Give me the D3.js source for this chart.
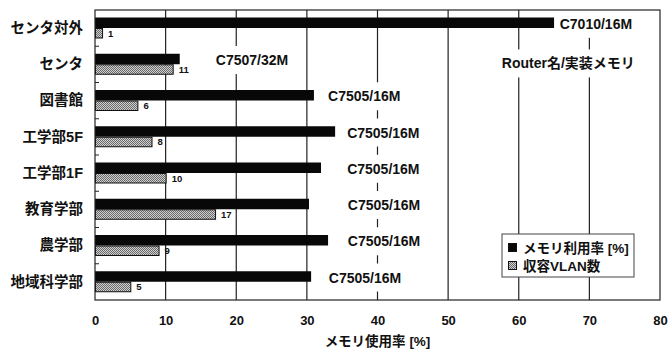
<!DOCTYPE html>
<html>
<head>
<meta charset="utf-8">
<script src="https://cdn.jsdelivr.net/npm/d3@7/dist/d3.min.js"></script>
<style>
  html, body { margin: 0; padding: 0; background: #fff; }
  svg { display: block; }
  .lat { font-family: "Liberation Sans", Arial, "Noto Sans CJK JP", sans-serif; }
  .jp { font-family: "Liberation Sans", "Noto Sans CJK JP", sans-serif; }
</style>
</head>
<body>
<svg id="chart" width="670" height="352"></svg>
<script>
// Sites (top to bottom)
const categories = ["センタ対外", "センタ", "図書館", "工学部5F", "工学部1F", "教育学部", "農学部", "地域科学部"];
// Memory utilisation [%] per router
const memoryUsage = [65, 12, 31, 34, 32, 30.3, 33, 30.6];
// Number of VLANs hosted per router
const vlanCount = [1, 11, 6, 8, 10, 17, 9, 5];
// Router model / installed memory
const routerModels = ["C7010/16M", "C7507/32M", "C7505/16M", "C7505/16M", "C7505/16M", "C7505/16M", "C7505/16M", "C7505/16M"];
const xTicks = [0, 10, 20, 30, 40, 50, 60, 70, 80];
const seriesNames = ["メモリ利用率 [%]", "収容VLAN数"];
const xTitle = "メモリ使用率 [%]";
const routerHeader = "Router名/実装メモリ";

// Where each router caption starts, in axis units
const captionAt = [65.8, 17.1, 33.0, 35.7, 35.7, 35.8, 35.8, 33.1];
const headerAt = 57.6;

const svg = d3.select("#chart");
const m = { left: 95, top: 10, right: 10, bottom: 52 };
const W = 670, H = 352;
const pw = W - m.left - m.right, ph = H - m.top - m.bottom;

const x = d3.scaleLinear().domain([0, 80]).range([m.left, m.left + pw]);
const y = d3.scaleBand().domain(categories).range([m.top, m.top + ph]).padding(0);
const sub = d3.scaleBand().domain(["mem", "vlan"]).range([7.5, 28.5]).padding(0);

// dithered grey fill for the VLAN bars
const defs = svg.append("defs");
const pat = defs.append("pattern").attr("id", "dots").attr("patternUnits", "userSpaceOnUse")
  .attr("width", 2).attr("height", 2);
pat.append("rect").attr("width", 2).attr("height", 2).attr("fill", "#cfcfcf");
pat.append("rect").attr("x", 0).attr("y", 0).attr("width", 1).attr("height", 1).attr("fill", "#6a6a6a");
pat.append("rect").attr("x", 1).attr("y", 1).attr("width", 1).attr("height", 1).attr("fill", "#6a6a6a");

// plot background
svg.append("rect").attr("x", m.left).attr("y", m.top).attr("width", pw).attr("height", ph)
  .attr("fill", "#fff");

// vertical grid lines
svg.append("g").selectAll("line").data(xTicks.filter(t => t > 0 && t < 80)).join("line")
  .attr("x1", d => x(d)).attr("x2", d => x(d))
  .attr("y1", m.top).attr("y2", m.top + ph)
  .attr("stroke", "#222").attr("stroke-width", 1.2);

// bars
const rows = categories.map((c, i) => ({ c, mem: memoryUsage[i], vlan: vlanCount[i], model: routerModels[i], at: captionAt[i] }));
const g = svg.append("g");
g.selectAll("rect.mem").data(rows).join("rect").attr("class", "mem")
  .attr("x", x(0)).attr("y", d => y(d.c) + sub("mem"))
  .attr("width", d => x(d.mem) - x(0)).attr("height", sub.bandwidth())
  .attr("fill", "#080808");
g.selectAll("rect.vlan").data(rows).join("rect").attr("class", "vlan")
  .attr("x", x(0) + 0.5).attr("y", d => y(d.c) + sub("vlan") + 0.5)
  .attr("width", d => x(d.vlan) - x(0)).attr("height", sub.bandwidth() - 1)
  .attr("fill", "url(#dots)").attr("stroke", "#111").attr("stroke-width", 1);
g.selectAll("text.vl").data(rows).join("text").attr("class", "vl lat")
  .attr("x", d => x(d.vlan) + 6).attr("y", d => y(d.c) + sub("vlan") + sub.bandwidth() / 2)
  .attr("dy", "0.36em").attr("font-size", 9.5).attr("font-weight", "bold")
  .attr("fill", "#111").text(d => d.vlan);

// router captions on white boxes
function caption(sel, tx, ty, str) {
  const grp = sel.append("g");
  const box = grp.append("rect").attr("fill", "#fff");
  const t = grp.append("text").attr("class", "jp").attr("x", tx).attr("y", ty)
    .attr("dy", "0.36em").attr("font-size", 14).attr("font-weight", "bold")
    .attr("fill", "#111").text(str);
  const bb = t.node().getBBox();
  box.attr("x", bb.x - 4).attr("y", bb.y - 6).attr("width", bb.width + 8).attr("height", bb.height + 12);
}
const capG = svg.append("g");
rows.forEach(d => caption(capG, x(d.at), y(d.c) + sub("mem") + sub.bandwidth() / 2 + 1, d.model));
caption(capG, x(headerAt), y(categories[1]) + y.bandwidth() / 2 - 1, routerHeader);

// plot frame
svg.append("rect").attr("x", m.left).attr("y", m.top).attr("width", pw).attr("height", ph)
  .attr("fill", "none").attr("stroke", "#222").attr("stroke-width", 1.2);

// category axis
const yAxis = svg.append("g").attr("transform", `translate(${m.left},0)`)
  .call(d3.axisLeft(y).tickSize(0).tickPadding(12));
yAxis.select(".domain").remove();
yAxis.selectAll("text").attr("class", "jp").attr("font-size", 14.5).attr("font-weight", "bold").attr("fill", "#111");
// inward ticks at band boundaries
svg.append("g").selectAll("line").data(categories.slice(1)).join("line")
  .attr("x1", m.left).attr("x2", m.left + 4)
  .attr("y1", d => y(d)).attr("y2", d => y(d))
  .attr("stroke", "#222").attr("stroke-width", 1);

// value axis
const xAxis = svg.append("g").attr("transform", `translate(0,${m.top + ph})`)
  .call(d3.axisBottom(x).tickValues(xTicks).tickSize(0).tickPadding(16));
xAxis.select(".domain").remove();
xAxis.selectAll("text").attr("class", "lat").attr("font-size", 13).attr("font-weight", "bold").attr("fill", "#111");

svg.append("text").attr("class", "jp").attr("x", x(40)).attr("y", 346)
  .attr("text-anchor", "middle").attr("font-size", 13.5).attr("font-weight", "bold")
  .attr("fill", "#111").text(xTitle);

// legend
const lg = svg.append("g").attr("transform", "translate(502,234)");
lg.append("rect").attr("width", 132).attr("height", 43).attr("fill", "#fff")
  .attr("stroke", "#444").attr("stroke-width", 1);
const fills = ["#080808", "url(#dots)"];
seriesNames.forEach((s, i) => {
  const cy = 14 + i * 18;
  lg.append("rect").attr("x", 6.5).attr("y", cy - 4.5).attr("width", 8).attr("height", 8)
    .attr("fill", fills[i]).attr("stroke", "#111").attr("stroke-width", 1);
  lg.append("text").attr("class", "jp").attr("x", 21).attr("y", cy).attr("dy", "0.36em")
    .attr("font-size", 13.5).attr("font-weight", "bold").attr("fill", "#111").text(s);
});
</script>
</body>
</html>
